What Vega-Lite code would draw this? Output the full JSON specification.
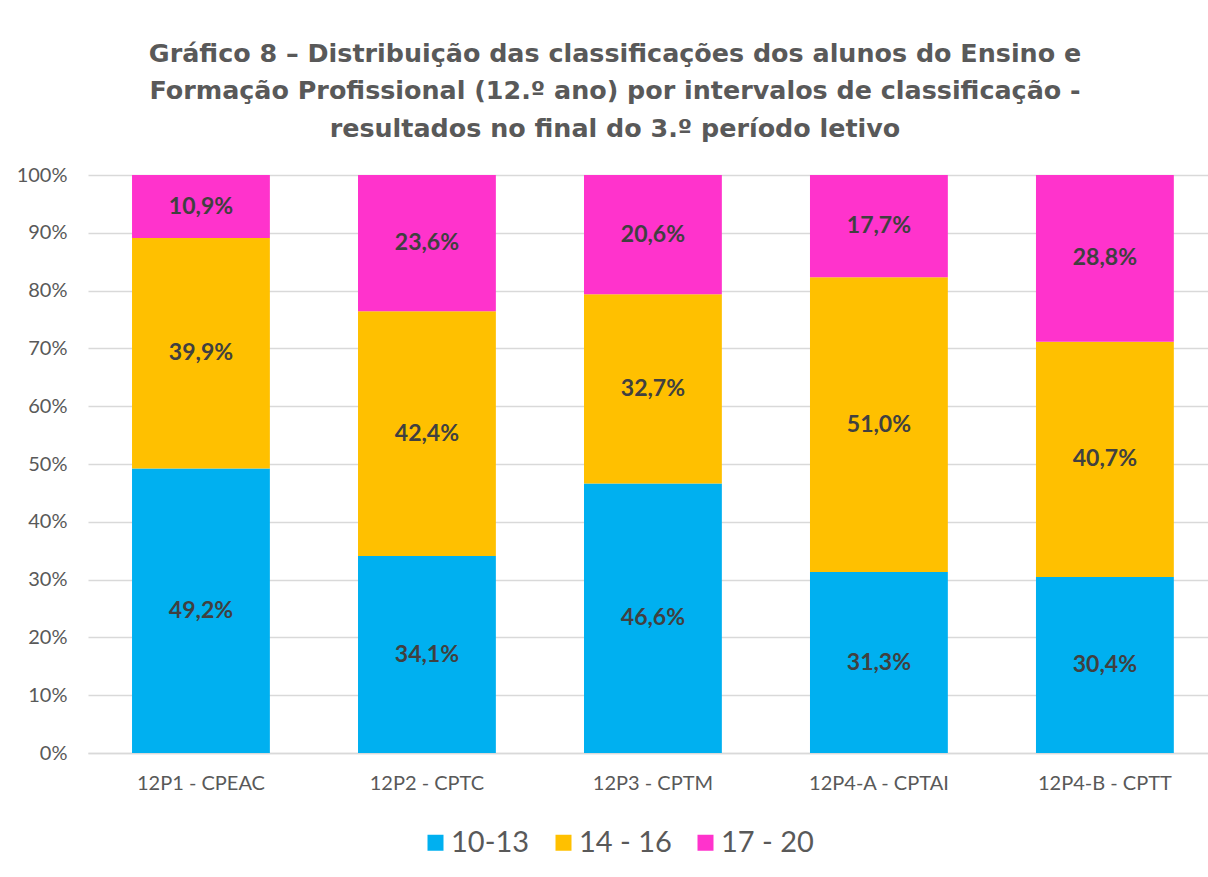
{
  "$schema": "https://vega.github.io/schema/vega-lite/v6.json",
  "width": 1120,
  "height": 578,
  "autosize": {"type": "none"},
  "padding": {"left": 88, "top": 175, "right": 0, "bottom": 124},
  "background": "white",
  "config": {
    "view": {"stroke": null},
    "locale": {"number": {"decimal": ",", "thousands": ".", "grouping": [3], "currency": ["", " €"]}}
  },
  "title": {
    "text": ["Gráfico 8 – Distribuição das classificações dos alunos do Ensino e", "Formação Profissional (12.º ano) por intervalos de classificação -", "resultados no final do 3.º período letivo"],
    "font": "DejaVu Sans",
    "fontWeight": "bold",
    "fontSize": 25.4,
    "color": "#595959",
    "lineHeight": 37.5,
    "anchor": "middle",
    "dx": -33,
    "offset": 23
  },
  "data": {
    "values": [
      {"turma": "12P1 - CPEAC", "grupo": "10-13", "valor": 49.2},
      {"turma": "12P1 - CPEAC", "grupo": "14 - 16", "valor": 39.9},
      {"turma": "12P1 - CPEAC", "grupo": "17 - 20", "valor": 10.9},
      {"turma": "12P2 - CPTC", "grupo": "10-13", "valor": 34.1},
      {"turma": "12P2 - CPTC", "grupo": "14 - 16", "valor": 42.4},
      {"turma": "12P2 - CPTC", "grupo": "17 - 20", "valor": 23.6},
      {"turma": "12P3 - CPTM", "grupo": "10-13", "valor": 46.6},
      {"turma": "12P3 - CPTM", "grupo": "14 - 16", "valor": 32.7},
      {"turma": "12P3 - CPTM", "grupo": "17 - 20", "valor": 20.6},
      {"turma": "12P4-A - CPTAI", "grupo": "10-13", "valor": 31.3},
      {"turma": "12P4-A - CPTAI", "grupo": "14 - 16", "valor": 51.0},
      {"turma": "12P4-A - CPTAI", "grupo": "17 - 20", "valor": 17.7},
      {"turma": "12P4-B - CPTT", "grupo": "10-13", "valor": 30.4},
      {"turma": "12P4-B - CPTT", "grupo": "14 - 16", "valor": 40.7},
      {"turma": "12P4-B - CPTT", "grupo": "17 - 20", "valor": 28.8}
    ]
  },
  "transform": [
    {"stack": "valor", "groupby": ["turma"], "sort": [{"field": "grupo", "order": "ascending"}], "offset": "normalize", "as": ["y0", "y1"]},
    {"calculate": "(datum.y0 + datum.y1) / 2", "as": "ymid"},
    {"calculate": "datum.valor / 100", "as": "frac"}
  ],
  "encoding": {
    "x": {
      "field": "turma", "type": "nominal", "sort": null,
      "scale": {"paddingInner": 0.39, "paddingOuter": 0.173, "align": 0.563},
      "axis": {
        "title": null, "labelAngle": 0, "labelFont": "Lato", "labelFontSize": 20,
        "labelColor": "#595959", "labelPadding": 20, "ticks": false,
        "domainColor": "#d9d9d9", "domainWidth": 1.5
      }
    }
  },
  "layer": [
    {
      "mark": {"type": "bar"},
      "encoding": {
        "y": {
          "field": "y0", "type": "quantitative",
          "scale": {"domain": [0, 1]},
          "axis": {
            "title": null, "format": ".0%", "values": [0, 0.1, 0.2, 0.3, 0.4, 0.5, 0.6, 0.7, 0.8, 0.9, 1],
            "labelFont": "Lato", "labelFontSize": 20, "labelColor": "#595959",
            "labelPadding": 21, "ticks": false, "domain": false,
            "gridColor": "#d9d9d9", "gridWidth": 1.5
          }
        },
        "y2": {"field": "y1"},
        "color": {
          "field": "grupo", "type": "nominal",
          "scale": {"domain": ["10-13", "14 - 16", "17 - 20"], "range": ["#00B0F0", "#FFC000", "#FF33CC"]},
          "legend": {
            "title": null, "orient": "none", "direction": "horizontal",
            "legendX": 333, "legendY": 653,
            "symbolType": "square", "symbolSize": 256, "symbolStrokeWidth": 0,
            "labelFont": "Lato", "labelFontSize": 29, "labelColor": "#595959",
            "labelOffset": 1, "columnPadding": 19
          }
        }
      }
    },
    {
      "mark": {"type": "text", "font": "Lato", "fontWeight": "bold", "fontSize": 23, "color": "#404040", "baseline": "middle"},
      "encoding": {
        "y": {"field": "ymid", "type": "quantitative"},
        "text": {"field": "frac", "type": "quantitative", "format": ".1%"}
      }
    }
  ]
}
